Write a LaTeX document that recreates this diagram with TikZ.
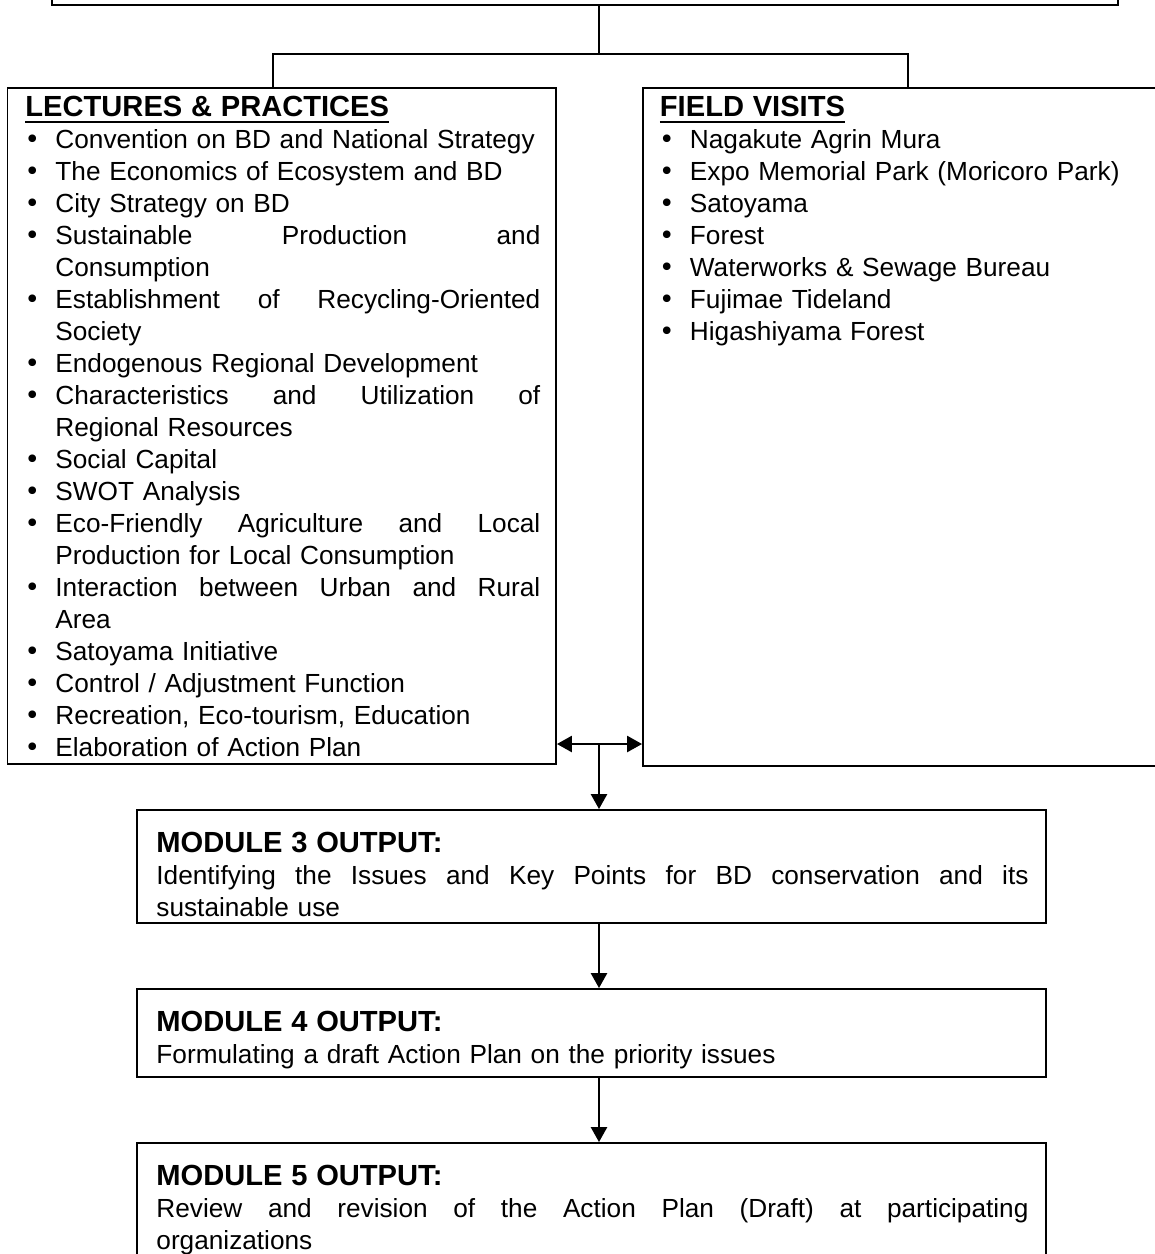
\documentclass[tikz,border=0pt]{standalone}
\usepackage{fontspec}
\setmainfont{Liberation Sans}
\newfontfamily\bulfont{DejaVu Sans}
\usetikzlibrary{arrows.meta,fit}
\newlength{\itemind}\setlength{\itemind}{13.6pt}
\newlength{\itemw}\setlength{\itemw}{219.8pt}
\newlength{\modw}\setlength{\modw}{395.3pt}
\newcommand{\bul}{\makebox[\itemind][l]{\hspace{-0.4pt}{\bulfont\char"2022}}}
\newcommand{\cont}{\hspace*{\itemind}}
\newcommand{\just}[2]{\leavevmode\hbox to #1{\spaceskip=\fontdimen2\font plus 1fil\relax #2}}
\newcommand{\hd}[1]{\rule{0pt}{10pt}{\fontsize{13.2}{14.5}\selectfont\bfseries #1}}
\newcommand{\uhd}[1]{\rule{0pt}{10pt}\setbox0\hbox{\fontsize{13.2}{14.5}\selectfont\bfseries #1}\rlap{\rule[-3.05pt]{\wd0}{0.9pt}}\box0}
\tikzset{
  panel/.style={draw,line width=0.9pt,inner sep=0pt},
  link/.style={line width=0.8pt},
  listtext/.style={anchor=north west,yshift=10pt,inner sep=0pt,font=\fontsize{11.88}{14.5}\selectfont},
  >={Triangle[length=6.8pt,width=7.4pt]}
}
\begin{document}
\begin{tikzpicture}[x=0.4533pt,y=-0.4533pt]
\useasboundingbox (0,0) rectangle (1155,1254);
\clip (0,0) rectangle (1155,1254);

% boxes
\node[panel,fit={(52,-80) (1118,5)}] (top) {};
\node[panel,fit={(7.5,88) (556,764)}] (lect) {};
\node[panel,fit={(643,88) (1180,766)}] (field) {};
\node[panel,fit={(137,810) (1046,923)}] (mod3) {};
\node[panel,fit={(137,989) (1046,1077)}] (mod4) {};
\node[panel,fit={(137,1143) (1046,1300)}] (mod5) {};

\coordinate (split) at (599,54);
\coordinate (ldrop) at (273,54);
\coordinate (rdrop) at (908,54);
\coordinate (mid) at (599,744);

\draw[link] (top.south -| split) -- (split);
\draw[link] (lect.north -| ldrop) -- (ldrop) -- (rdrop) -- (field.north -| rdrop);
\draw[link,<->] (lect.east |- mid) -- (field.west |- mid);
\draw[link,->] (mid) -- (mod3.north -| mid);
\draw[link,->] (mod3.south -| mid) -- (mod4.north -| mid);
\draw[link,->] (mod4.south -| mid) -- (mod5.north -| mid);

% texts
\node[listtext,text width=233.4pt] (lecttxt) at (25,116) {\uhd{LECTURES \& PRACTICES}\\
\bul Convention on BD and National Strategy\\
\bul The Economics of Ecosystem and BD\\
\bul City Strategy on BD\\
\bul\just{\itemw}{Sustainable Production and}\\
\cont Consumption\\
\bul\just{\itemw}{Establishment of Recycling-Oriented}\\
\cont Society\\
\bul Endogenous Regional Development\\
\bul\just{\itemw}{Characteristics and Utilization of}\\
\cont Regional Resources\\
\bul Social Capital\\
\bul SWOT Analysis\\
\bul\just{\itemw}{Eco-Friendly Agriculture and Local}\\
\cont Production for Local Consumption\\
\bul\just{\itemw}{Interaction between Urban and Rural}\\
\cont Area\\
\bul Satoyama Initiative\\
\bul Control / Adjustment Function\\
\bul Recreation, Eco-tourism, Education\\
\bul Elaboration of Action Plan};

\node[listtext,text width=230pt] (fieldtxt) at (659.5,116) {\uhd{FIELD VISITS}\\
\bul Nagakute Agrin Mura\\
\bul Expo Memorial Park (Moricoro Park)\\
\bul Satoyama\\
\bul Forest\\
\bul Waterworks \& Sewage Bureau\\
\bul Fujimae Tideland\\
\bul Higashiyama Forest};

\node[listtext,text width=\modw] (mod3txt) at (156,852) {\hd{MODULE 3 OUTPUT:}\\
\just{\modw}{Identifying the Issues and Key Points for BD conservation and its}\\
sustainable use};
\node[listtext,text width=\modw] (mod4txt) at (156,1031) {\hd{MODULE 4 OUTPUT:}\\
Formulating a draft Action Plan on the priority issues};
\node[listtext,text width=\modw] (mod5txt) at (156,1185) {\hd{MODULE 5 OUTPUT:}\\
\just{\modw}{Review and revision of the Action Plan (Draft) at participating}\\
organizations};
\end{tikzpicture}
\end{document}
